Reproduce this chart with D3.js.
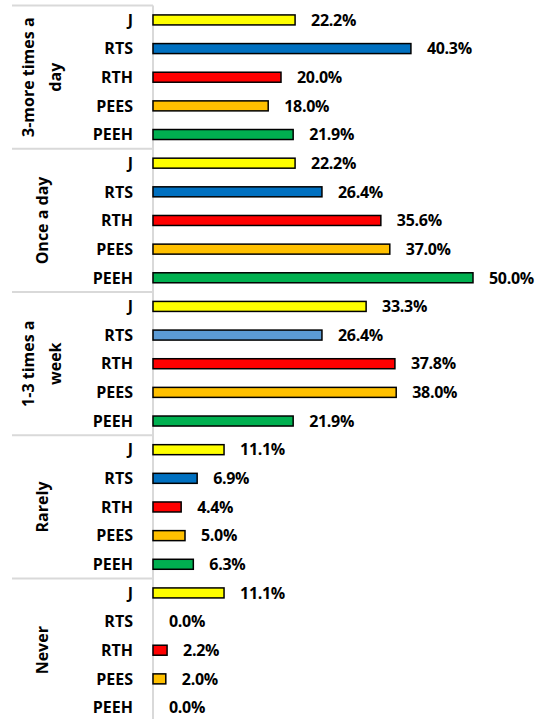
<!DOCTYPE html>
<html lang="en">
<head>
    <meta charset="UTF-8">
    <title>Frequency</title>
    <script src="https://cdn.jsdelivr.net/npm/d3@7"></script>
    <style>
        body { margin: 0; background: #fff; }
        text { font-family: "Open Sans", sans-serif; font-weight: bold; fill: #000; }
    </style>
</head>
<body>
<script>
    let width = 550;
    let height = 719;

    // groups, top to bottom
    var groups = ["3-more times a day", "Once a day", "1-3 times a week", "Rarely", "Never"];
    var groupLines = [["3-more times a", "day"], ["Once a day"], ["1-3 times a", "week"], ["Rarely"], ["Never"]];
    var series = ["J", "RTS", "RTH", "PEES", "PEEH"];

    // percentages for each group, in series order
    var threeMore = [22.2, 40.3, 20.0, 18.0, 21.9];
    var onceDay = [22.2, 26.4, 35.6, 37.0, 50.0];
    var weekly = [33.3, 26.4, 37.8, 38.0, 21.9];
    var rarely = [11.1, 6.9, 4.4, 5.0, 6.3];
    var never = [11.1, 0.0, 2.2, 2.0, 0.0];
    var values = [threeMore, onceDay, weekly, rarely, never];

    var colors = ["#FFFF00", "#0070C0", "#FF0000", "#FFC000", "#00B050"];
    // the RTS bar in the weekly group is a lighter blue
    var weeklyRtsColor = "#5B9BD5";

    var rows = [];
    groups.forEach(function (g, gi) {
        series.forEach(function (s, si) {
            rows.push({group: g, gi: gi, name: s, si: si, value: values[gi][si], key: g + "|" + s});
        });
    });

    var axisX = 153;
    var plotTop = 5.6;
    var bandH = 28.65;

    var svg = d3.select("body").append("svg")
        .attr("width", width)
        .attr("height", height);

    var y = d3.scaleBand()
        .domain(rows.map(function (d) { return d.key; }))
        .range([plotTop, plotTop + bandH * rows.length]);

    var x = d3.scaleLinear()
        .domain([0, 50])
        .range([axisX, axisX + 320]);

    var barH = 10;

    // separators between groups (and top line)
    var sepYs = d3.range(groups.length + 1).map(function (i) { return plotTop + i * 5 * bandH; });
    svg.selectAll("line.sep")
        .data(sepYs)
        .enter()
        .append("line")
        .attr("class", "sep")
        .attr("x1", 12)
        .attr("x2", axisX)
        .attr("y1", function (d) { return d; })
        .attr("y2", function (d) { return d; })
        .attr("stroke", "#d9d9d9")
        .attr("stroke-width", 2);

    // axis line
    svg.append("line")
        .attr("x1", axisX).attr("x2", axisX)
        .attr("y1", plotTop).attr("y2", height)
        .attr("stroke", "#d9d9d9")
        .attr("stroke-width", 2);

    svg.selectAll("rect.bar")
        .data(rows.filter(function (d) { return d.value > 0; }))
        .enter()
        .append("rect")
        .attr("class", "bar")
        .attr("x", x(0))
        .attr("y", function (d) { return y(d.key) + y.bandwidth() / 2 - barH / 2; })
        .attr("width", function (d) { return x(d.value) - x(0); })
        .attr("height", barH)
        .attr("fill", function (d) {
            if (d.gi === 2 && d.si === 1) return weeklyRtsColor;
            return colors[d.si];
        })
        .attr("stroke", "#000")
        .attr("stroke-width", 1.5);

    // value labels
    svg.selectAll("text.val")
        .data(rows)
        .enter()
        .append("text")
        .attr("class", "val")
        .attr("x", function (d) { return x(d.value) + 16; })
        .attr("y", function (d) { return y(d.key) + y.bandwidth() / 2; })
        .attr("dy", "0.36em")
        .attr("font-size", 16)
        .attr("letter-spacing", "-0.3")
        .text(function (d) { return d.value.toFixed(1) + "%"; });

    // category labels
    svg.selectAll("text.cat")
        .data(rows)
        .enter()
        .append("text")
        .attr("class", "cat")
        .attr("x", 133)
        .attr("y", function (d) { return y(d.key) + y.bandwidth() / 2; })
        .attr("dy", "0.36em")
        .attr("text-anchor", "end")
        .attr("font-size", 16)
        .text(function (d) { return d.name; });

    // rotated group labels
    var gl = svg.selectAll("g.glabel")
        .data(groupLines)
        .enter()
        .append("g")
        .attr("class", "glabel")
        .attr("transform", function (d, i) {
            var cy = plotTop + (i * 5 + 2.5) * bandH;
            return "translate(42," + cy + ") rotate(-90)";
        });

    gl.each(function (lines) {
        var g = d3.select(this);
        var lh = 27;
        lines.forEach(function (t, k) {
            g.append("text")
                .attr("x", 0)
                .attr("y", (k - (lines.length - 1) / 2) * lh)
                .attr("dy", "0.36em")
                .attr("text-anchor", "middle")
                .attr("font-size", 16)
                .text(t);
        });
    });
</script>
</body>
</html>
